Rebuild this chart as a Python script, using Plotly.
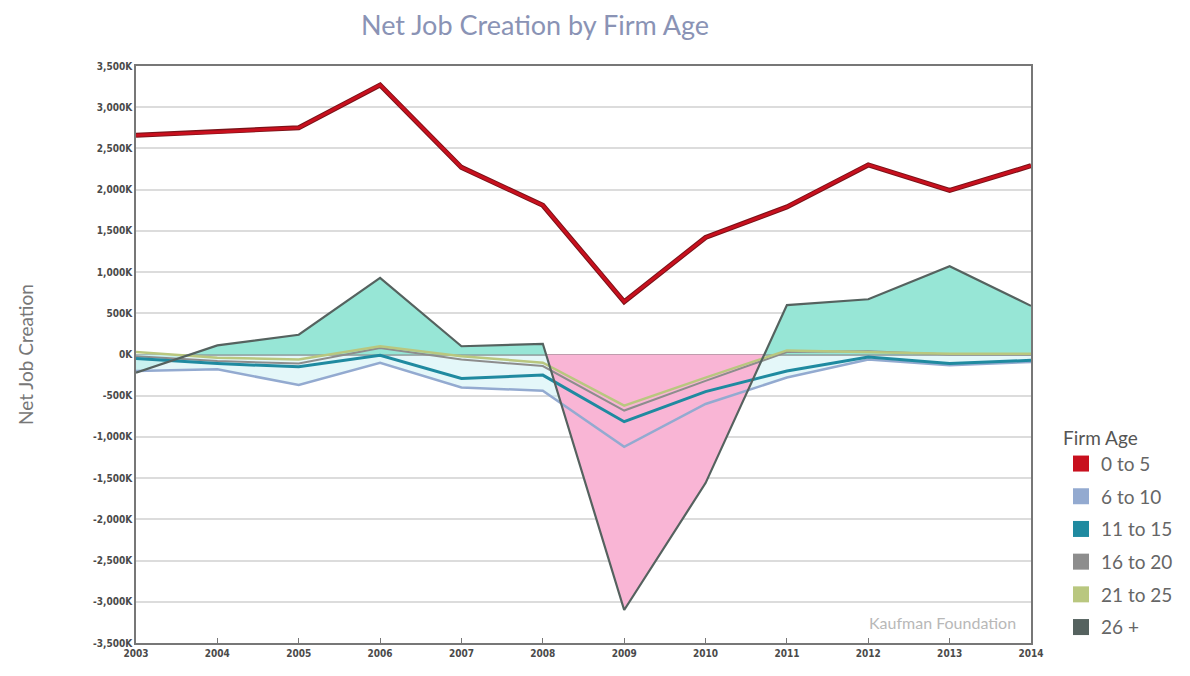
import plotly.graph_objects as go

# Net job creation (thousands of jobs) by firm age, 2003-2014
years = list(range(2003, 2015))
age_0_5 = [2660, 2700, 2750, 3270, 2270, 1810, 640, 1420, 1790, 2300, 1990, 2290]
age_6_10 = [-200, -180, -370, -100, -400, -440, -1120, -600, -280, -60, -130, -90]
age_11_15 = [-50, -110, -150, -10, -290, -250, -815, -450, -200, -30, -110, -70]
age_16_20 = [-20, -80, -110, 80, -60, -140, -680, -320, 30, 40, 0, 0]
age_21_25 = [30, -40, -60, 100, -20, -100, -620, -280, 50, 30, 10, 10]
age_26_plus = [-220, 110, 240, 930, 100, 130, -3100, -1560, 600, 670, 1070, 590]

series_names = ["0 to 5", "6 to 10", "11 to 15", "16 to 20", "21 to 25", "26 +"]
series_colors = ["#c8101e", "#93aad0", "#1f8aa0", "#8d8d8d", "#b9c77f", "#55625f"]

y_ticks = [3500, 3000, 2500, 2000, 1500, 1000, 500, 0,
           -500, -1000, -1500, -2000, -2500, -3000, -3500]
y_tick_labels = ["3,500K", "3,000K", "2,500K", "2,000K", "1,500K", "1,000K", "500K", "0K",
                 "-500K", "-1,000K", "-1,500K", "-2,000K", "-2,500K", "-3,000K", "-3,500K"]

# Fill colours for each same-sign run of the 26+ area, in order along the x axis
run_fills = ["#c9f1ef", "#97e6d6", "#f9b5d5", "#97e6d6"]

tick_font = dict(family="DejaVu Sans Condensed", size=10, color="#4a4a4a", weight="bold")


def sign_runs(xs, ys):
    """Split a polyline into same-sign runs, inserting the zero crossings."""
    runs = []
    cur_x, cur_y = [xs[0]], [ys[0]]
    for i in range(1, len(xs)):
        y0, y1 = ys[i - 1], ys[i]
        if (y0 < 0) != (y1 < 0) and y0 != 0 and y1 != 0:
            t = y0 / (y0 - y1)
            xc = xs[i - 1] + t * (xs[i] - xs[i - 1])
            cur_x.append(xc)
            cur_y.append(0)
            runs.append((cur_x, cur_y))
            cur_x, cur_y = [xc], [0]
        cur_x.append(xs[i])
        cur_y.append(y1)
    runs.append((cur_x, cur_y))
    return runs


fig = go.Figure()

# Pale band under the 6 to 10 series
fig.add_trace(go.Scatter(x=years, y=age_6_10, fill="tozeroy", fillcolor="rgba(205,240,244,0.55)",
                         mode="none", showlegend=False, hoverinfo="skip"))

# Shaded area between the 26+ series and zero
for k, (rx, ry) in enumerate(sign_runs(years, age_26_plus)):
    px = rx + [rx[-1], rx[0]]
    py = ry + [0, 0]
    fig.add_trace(go.Scatter(x=px, y=py, fill="toself", fillcolor=run_fills[k % len(run_fills)],
                             mode="none", showlegend=False, hoverinfo="skip"))

line_specs = [
    (age_16_20, series_colors[3], 2.0),
    (age_21_25, series_colors[4], 2.5),
    (age_6_10, series_colors[1], 2.5),
    (age_11_15, series_colors[2], 3.0),
    (age_26_plus, series_colors[5], 2.2),
]
for ys, col, w in line_specs:
    fig.add_trace(go.Scatter(x=years, y=ys, mode="lines", line=dict(color=col, width=w),
                             showlegend=False))

# Youngest firms on top, with a darker edge
fig.add_trace(go.Scatter(x=years, y=age_0_5, mode="lines", line=dict(color="#7a1218", width=5),
                         showlegend=False, hoverinfo="skip"))
fig.add_trace(go.Scatter(x=years, y=age_0_5, mode="lines", line=dict(color=series_colors[0], width=3),
                         showlegend=False))

# Legend entries
for name, col in zip(series_names, series_colors):
    fig.add_trace(go.Scatter(x=[None], y=[None], mode="markers", name=name, legendgroup=name,
                             marker=dict(symbol="square", size=16, color=col)))

plot_w = 1190 - 136 - 159
plot_h = 676 - 66 - 33

fig.update_layout(
    width=1190, height=676,
    margin=dict(l=136, r=159, t=66, b=33, autoexpand=False),
    paper_bgcolor="white", plot_bgcolor="white",
    showlegend=True,
    legend=dict(
        x=1 + 30 / plot_w, xanchor="left", xref="paper",
        y=(643 - 420) / plot_h, yanchor="top",
        title=dict(text="Firm Age", font=dict(family="Lato", size=19, color="#555")),
        font=dict(family="Lato", size=19, color="#666"),
        tracegroupgap=5, itemwidth=30,
    ),
    xaxis=dict(
        range=[2003, 2014], tickmode="array", tickvals=years, ticktext=[str(y) for y in years],
        showgrid=False, showline=True, linecolor="#777", linewidth=1.5, mirror=True,
        ticks="inside", ticklen=5, tickcolor="#777",
        tickfont=tick_font, zeroline=False,
    ),
    yaxis=dict(
        range=[-3500, 3500], tickmode="array", tickvals=y_ticks, ticktext=y_tick_labels,
        showgrid=True, gridcolor="#dcdcdc", gridwidth=1.5,
        showline=True, linecolor="#777", linewidth=1.5, mirror=True,
        ticks="", tickfont=tick_font,
        zeroline=True, zerolinecolor="#6a5a5a", zerolinewidth=2,
        title=dict(text="Net Job Creation", font=dict(family="Lato", size=19, color="#777"), standoff=54),
    ),
    annotations=[
        dict(text="Net Job Creation by Firm Age", x=(535 - 136) / plot_w, xref="paper",
             y=(676 - 33 - 25) / plot_h, yref="paper", yanchor="middle",
             showarrow=False, font=dict(family="Lato", size=27, color="#8a93b5")),
        dict(text="Kaufman Foundation", x=0.985, xref="paper", y=0.015, yref="paper",
             xanchor="right", yanchor="bottom", showarrow=False,
             font=dict(family="Lato", size=16, color="#b8b8b8")),
    ],
)

fig.write_html("out.html")
